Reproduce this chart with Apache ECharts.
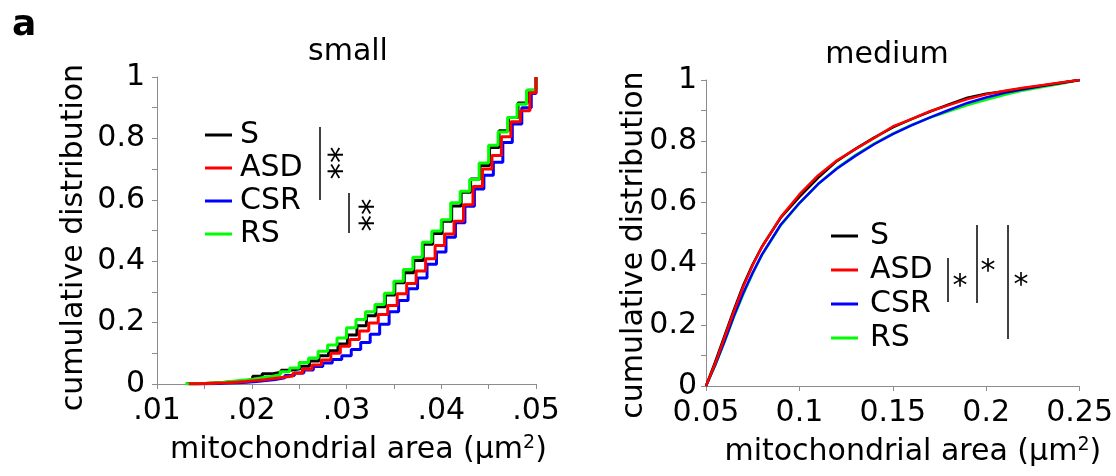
<!DOCTYPE html>
<html>
<head>
<meta charset="utf-8">
<script src="https://cdn.jsdelivr.net/npm/echarts@6/dist/echarts.min.js"></script>
<style>
  html, body { margin: 0; padding: 0; background: #fff; }
  #chart { width: 1116px; height: 476px; }
</style>
</head>
<body>
<div id="chart"></div>
<script>
// cumulative distributions, small and medium mitochondria
const groups = ['S', 'ASD', 'CSR', 'RS'];
const colors = { S: '#000000', ASD: '#ff0000', CSR: '#0000ff', RS: '#00ff00' };

// small: bin left edges (um2), last entry is the closing edge
const smallX = [0.013, 0.014, 0.015, 0.016, 0.017, 0.018, 0.019, 0.020, 0.021, 0.022,
  0.023, 0.024, 0.025, 0.026, 0.027, 0.028, 0.029, 0.030, 0.031, 0.032,
  0.033, 0.034, 0.035, 0.036, 0.037, 0.038, 0.039, 0.040, 0.041, 0.042,
  0.043, 0.044, 0.045, 0.046, 0.047, 0.048, 0.049, 0.050];
// small offset of each group's bins (um2)
const smallShift = { S: 0.0001, ASD: 0.00035, CSR: 0.0005, RS: 0 };

const smallS = [0.001, 0.002, 0.003, 0.005, 0.007, 0.010, 0.014, 0.025, 0.033, 0.038,
  0.045, 0.050, 0.058, 0.075, 0.092, 0.108, 0.130, 0.160, 0.190, 0.222,
  0.252, 0.290, 0.330, 0.362, 0.402, 0.455, 0.490, 0.530, 0.580, 0.625,
  0.668, 0.712, 0.770, 0.825, 0.868, 0.915, 0.957, 1.0];
const smallASD = [0.001, 0.002, 0.003, 0.004, 0.006, 0.008, 0.011, 0.014, 0.018, 0.022,
  0.026, 0.035, 0.048, 0.062, 0.078, 0.100, 0.123, 0.145, 0.173, 0.199,
  0.226, 0.256, 0.294, 0.327, 0.368, 0.408, 0.451, 0.489, 0.530, 0.584,
  0.643, 0.700, 0.744, 0.805, 0.854, 0.890, 0.949, 1.0];
const smallCSR = [0.0005, 0.001, 0.002, 0.003, 0.004, 0.006, 0.008, 0.011, 0.015, 0.020,
  0.028, 0.036, 0.046, 0.057, 0.068, 0.080, 0.092, 0.112, 0.135, 0.162,
  0.195, 0.235, 0.272, 0.310, 0.345, 0.390, 0.430, 0.478, 0.525, 0.579,
  0.635, 0.680, 0.722, 0.787, 0.847, 0.900, 0.946, 1.0];
const smallRS = [0.001, 0.002, 0.004, 0.006, 0.009, 0.012, 0.015, 0.020, 0.024, 0.030,
  0.040, 0.052, 0.070, 0.085, 0.107, 0.127, 0.150, 0.183, 0.210, 0.235,
  0.259, 0.296, 0.335, 0.373, 0.413, 0.462, 0.498, 0.535, 0.590, 0.628,
  0.666, 0.720, 0.778, 0.821, 0.868, 0.911, 0.957, 1.0];

// medium
const mediumX = [0.05, 0.055, 0.06, 0.065, 0.07, 0.075, 0.08, 0.09, 0.10, 0.11,
  0.12, 0.13, 0.14, 0.15, 0.16, 0.17, 0.18, 0.19, 0.20, 0.21,
  0.22, 0.23, 0.24, 0.25];
const mediumS = [0, 0.080, 0.165, 0.250, 0.330, 0.398, 0.456, 0.550, 0.618, 0.680,
  0.735, 0.775, 0.812, 0.845, 0.872, 0.897, 0.920, 0.942, 0.955, 0.963,
  0.973, 0.982, 0.991, 1.0];
const mediumASD = [0, 0.075, 0.160, 0.245, 0.325, 0.395, 0.455, 0.552, 0.626, 0.688,
  0.737, 0.774, 0.810, 0.848, 0.872, 0.898, 0.918, 0.938, 0.953, 0.965,
  0.975, 0.983, 0.992, 1.0];
const mediumCSR = [0, 0.070, 0.148, 0.230, 0.305, 0.370, 0.430, 0.527, 0.598, 0.660,
  0.710, 0.752, 0.790, 0.823, 0.852, 0.878, 0.902, 0.925, 0.943, 0.958,
  0.970, 0.980, 0.990, 1.0];
const mediumRS = [0, 0.068, 0.145, 0.226, 0.300, 0.368, 0.428, 0.525, 0.597, 0.660,
  0.712, 0.755, 0.792, 0.825, 0.853, 0.877, 0.898, 0.918, 0.935, 0.952,
  0.966, 0.977, 0.988, 1.0];

const smallVals = { S: smallS, ASD: smallASD, CSR: smallCSR, RS: smallRS };
const mediumVals = { S: mediumS, ASD: mediumASD, CSR: mediumCSR, RS: mediumRS };

const yTicks = { min: 0, max: 1, interval: 0.2 };
const FONT = 'DejaVu Sans, sans-serif';
const FS = 30;

const chart = echarts.init(document.getElementById('chart'), null, { renderer: 'canvas' });

function axisBase() {
  return {
    axisLine: { show: true, lineStyle: { color: '#8c8c8c', width: 1 } },
    axisTick: { show: true, length: 5, lineStyle: { color: '#8c8c8c' } },
    splitLine: { show: false },
    nameMoveOverlap: false,
    axisLabel: { color: '#000', fontSize: FS, fontFamily: FONT }
  };
}

const nameRich = {
  a: { fontSize: FS, fontFamily: FONT, color: '#000' },
  sup: { fontSize: 19, fontFamily: FONT, color: '#000', verticalAlign: 'top', padding: [0, 0, 13, 0] }
};
const areaName = '{a|mitochondrial area (\u03bcm}{sup|2}{a|)}';

const xAxes = [
  Object.assign(axisBase(), {
    type: 'value', gridIndex: 0, min: 0.01, max: 0.05, interval: 0.01,
    minorTick: { show: true, splitNumber: 2, length: 5, lineStyle: { color: '#8c8c8c' } },
    name: areaName, nameLocation: 'middle', nameGap: 50,
    nameTextStyle: { rich: nameRich, padding: [0, 0, 0, 24] }
  }),
  Object.assign(axisBase(), {
    type: 'value', gridIndex: 1, min: 0.05, max: 0.25, interval: 0.05,
    name: areaName, nameLocation: 'middle', nameGap: 50,
    nameTextStyle: { rich: nameRich, padding: [0, 0, 0, 40] }
  })
];
xAxes[0].axisLabel = Object.assign({}, xAxes[0].axisLabel, {
  margin: 12,
  formatter: v => v.toFixed(2).replace(/^0/, '')
});
xAxes[1].axisLabel = Object.assign({}, xAxes[1].axisLabel, { margin: 12 });

const yAxes = [0, 1].map(i => Object.assign(axisBase(), {
  type: 'value', gridIndex: i, min: yTicks.min, max: yTicks.max, interval: yTicks.interval,
  minorTick: { show: true, splitNumber: 2, length: 5, lineStyle: { color: '#8c8c8c' } },
  name: 'cumulative distribution', nameLocation: 'middle', nameRotate: 90,
  nameGap: i === 0 ? 68 : 57,
  nameTextStyle: { fontSize: FS, fontFamily: FONT, color: '#000',
    padding: i === 0 ? [0, 14, 0, 0] : [0, 24, 0, 0] }
}));
yAxes[0].axisLabel = Object.assign({}, yAxes[0].axisLabel, { margin: 12 });
yAxes[1].axisLabel = Object.assign({}, yAxes[1].axisLabel, { margin: 9 });

const series = [];
// draw order: blue, black, green, red on top
['CSR', 'S', 'RS', 'ASD'].forEach(g => {
  series.push({
    name: g, type: 'line', xAxisIndex: 0, yAxisIndex: 0, step: 'end',
    symbol: 'none', silent: true,
    lineStyle: { color: colors[g], width: 3 },
    itemStyle: { color: colors[g] },
    data: smallX.map((x, i) => [Math.min(x + smallShift[g], 0.05), smallVals[g][i]])
  });
});
['RS', 'CSR', 'S', 'ASD'].forEach(g => {
  series.push({
    name: g, type: 'line', xAxisIndex: 1, yAxisIndex: 1,
    symbol: 'none', silent: true,
    lineStyle: { color: colors[g], width: 2.5 },
    itemStyle: { color: colors[g] },
    data: mediumX.map((x, i) => [x, mediumVals[g][i]])
  });
});

const legendBase = {
  orient: 'vertical', icon: 'rect', itemWidth: 27, itemHeight: 3,
  selectedMode: false, data: groups
};

function vline(x, y1, y2) {
  return { type: 'line', shape: { x1: x, y1: y1, x2: x, y2: y2 }, style: { stroke: '#000', lineWidth: 1.5 } };
}
function star(x, y, t) {
  return {
    type: 'text', x: x, y: y, rotation: t.length > 1 ? -Math.PI / 2 : 0,
    style: { text: t, fontSize: t.length > 1 ? 33 : FS, fontFamily: FONT, fill: '#000', align: 'center', verticalAlign: 'middle' }
  };
}

chart.setOption({
  animation: false,
  backgroundColor: '#fff',
  title: [
    { text: 'small', left: 343, top: 32, textAlign: 'center',
      textStyle: { fontSize: FS, fontWeight: 'normal', fontFamily: FONT, color: '#000' } },
    { text: 'medium', left: 882, top: 35, textAlign: 'center',
      textStyle: { fontSize: FS, fontWeight: 'normal', fontFamily: FONT, color: '#000' } }
  ],
  grid: [
    { left: 157, right: 580, top: 77, bottom: 92 },
    { left: 706, right: 34, top: 80, bottom: 90 }
  ],
  xAxis: xAxes,
  yAxis: yAxes,
  legend: [
    Object.assign({}, legendBase, { left: 200, top: 115, itemGap: 3,
      textStyle: { fontSize: FS, fontFamily: FONT, color: '#000', lineHeight: 30, padding: [0, 0, 0, 3] } }),
    Object.assign({}, legendBase, { left: 826, top: 216, itemGap: 4,
      textStyle: { fontSize: FS, fontFamily: FONT, color: '#000', lineHeight: 30, padding: [0, 0, 0, 7] } })
  ],
  graphic: [
    { type: 'text', x: 12, y: 26,
      style: { text: 'a', fontSize: 36, fontWeight: 'bold', fontFamily: FONT, fill: '#000', verticalAlign: 'middle' } },
    vline(320, 127, 200), star(327, 163, '**'),
    vline(349, 193, 233), star(358, 215, '**'),
    vline(948, 258, 302), star(960, 287, '*'),
    vline(977, 225, 303), star(988, 272, '*'),
    vline(1008, 225, 339), star(1021, 286, '*')
  ],
  series: series
});
</script>
</body>
</html>
